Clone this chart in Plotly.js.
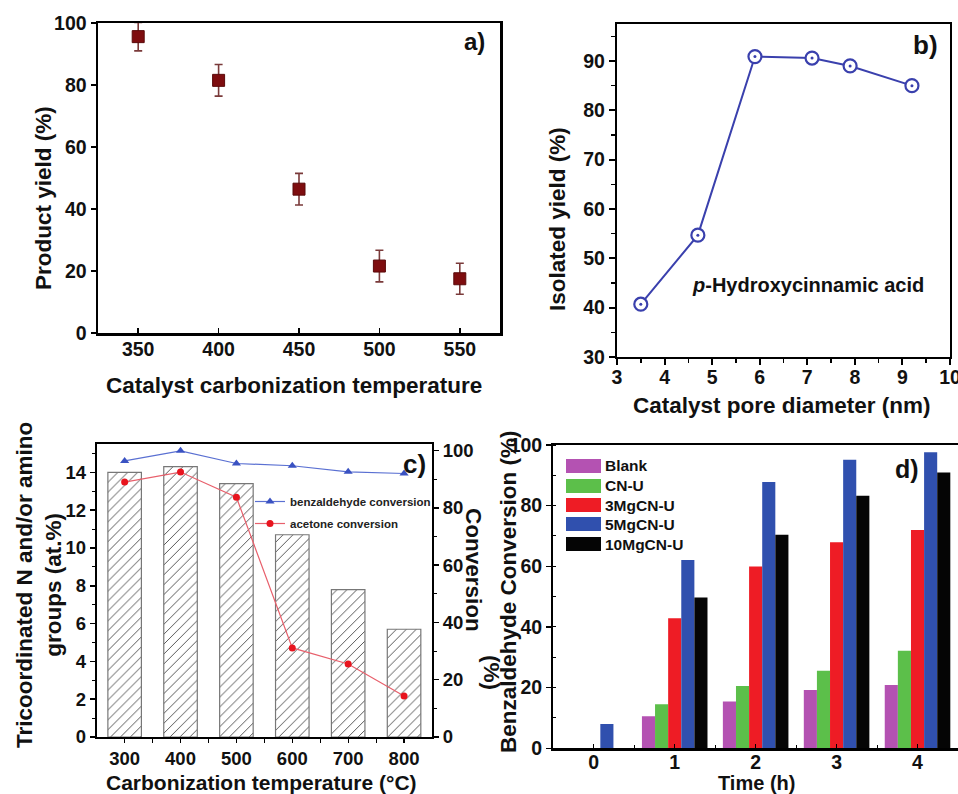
<!DOCTYPE html>
<html>
<head>
<meta charset="utf-8">
<script src="https://cdn.plot.ly/plotly-3.0.1.min.js"></script>
<style>html,body{margin:0;padding:0;background:#fff;}#chart{width:958px;height:794px;}</style>
</head>
<body>
<div id="chart"></div>
<script>
// ---------- DATA ----------
// a) product yield vs catalyst carbonization temperature
const aTemp = [350, 400, 450, 500, 550];
const aYield = [95.6, 81.5, 46.4, 21.6, 17.5];
const aErr = [4.6, 5.1, 5.1, 5.1, 5.0];

// b) isolated yield vs pore diameter
const bPore = [3.5, 4.7, 5.9, 7.1, 7.9, 9.2];
const bYield = [40.7, 54.7, 90.9, 90.6, 89.0, 85.0];
const bTicks = [3, 4, 5, 6, 7, 8, 9, 10];

// c) tricoordinated N content and conversions vs carbonization temperature
const cTemp = [300, 400, 500, 600, 700, 800];
const cNitrogen = [14.0, 14.3, 13.4, 10.7, 7.8, 5.7];
const cBenzConv = [96.4, 99.9, 95.5, 94.7, 92.6, 92.0];
const cAcetConv = [89.0, 92.5, 83.7, 31.1, 25.5, 14.3];

// d) benzaldehyde conversion vs time
const dTime = [0, 1, 2, 3, 4];
const dNames = ['Blank', 'CN-U', '3MgCN-U', '5MgCN-U', '10MgCN-U'];
const dBlank = [0, 10.6, 15.4, 19.2, 20.9];
const dCNU = [0, 14.5, 20.5, 25.6, 32.2];
const d3Mg = [0, 42.9, 59.9, 67.9, 72.0];
const d5Mg = [8.0, 62.1, 87.8, 95.1, 97.6];
const d10Mg = [0, 49.7, 70.4, 83.3, 90.9];

// ---------- STYLE ----------
const W = 958, H = 794;
const X = px => px / W;
const Y = py => 1 - py / H;
const FAM = 'Liberation Sans, Arial, Helvetica, sans-serif';
const tickF = {family: FAM, size: 19.5, color: '#111', weight: 'bold'};
const titleF = {family: FAM, size: 22.5, color: '#111', weight: 'bold'};
const dColors = ['#b452b2', '#5cbf4a', '#ee1c25', '#3050ae', '#050505'];
const dVals = [dBlank, dCNU, d3Mg, d5Mg, d10Mg];
const bBlue = '#3a40ad';

const traces = [];
// a
traces.push({
  x: aTemp, y: aYield, type: 'scatter', mode: 'markers', xaxis: 'x', yaxis: 'y',
  marker: {symbol: 'square', size: 12, color: '#7e0d0f', line: {color: '#5a0a0a', width: 1}},
  error_y: {type: 'data', array: aErr, visible: true, color: '#7a3a3a', thickness: 1.6, width: 4},
  showlegend: false
});
// b
traces.push({
  x: bPore, y: bYield, type: 'scatter', mode: 'lines+markers', xaxis: 'x2', yaxis: 'y2',
  line: {color: bBlue, width: 2},
  marker: {symbol: 'circle', size: 13, color: '#fff', line: {width: 2.2, color: bBlue}},
  showlegend: false
});
traces.push({
  x: bPore, y: bYield, type: 'scatter', mode: 'markers', xaxis: 'x2', yaxis: 'y2',
  marker: {symbol: 'circle', size: 3, color: bBlue},
  showlegend: false
});
// c bars
traces.push({
  x: cTemp, y: cNitrogen, type: 'bar', xaxis: 'x3', yaxis: 'y3', width: 60,
  marker: {color: 'white', line: {color: '#777', width: 1.2},
    pattern: {shape: '/', fgcolor: '#555', bgcolor: 'white', size: 7, solidity: 0.14}},
  showlegend: false
});
traces.push({
  x: cTemp, y: cBenzConv, type: 'scatter', mode: 'lines+markers', xaxis: 'x3', yaxis: 'y4',
  name: 'benzaldehyde conversion', legendgroup: 'g1',
  line: {color: '#5a70d2', width: 1.2},
  marker: {symbol: 'triangle-up', size: 8, color: '#3a52c2'}
});
traces.push({
  x: cTemp, y: cAcetConv, type: 'scatter', mode: 'lines+markers', xaxis: 'x3', yaxis: 'y4',
  name: 'acetone conversion', legendgroup: 'g2',
  line: {color: '#e8606c', width: 1.2},
  marker: {symbol: 'circle', size: 7, color: '#e8141e'}
});
// d bars
dNames.forEach((n, i) => {
  traces.push({
    x: dTime, y: dVals[i], type: 'bar', name: n, xaxis: 'x4', yaxis: 'y5',
    marker: {color: dColors[i], line: {width: 0}}, showlegend: false
  });
});

// ---------- LAYOUT ----------
const axBase = {showgrid: false, zeroline: false, showline: true, linecolor: '#000', tickcolor: '#000',
  tickfont: tickF, automargin: false, fixedrange: true};

const annotations = [
  // axis titles
  {text: 'Product yield (%)', x: X(43), y: Y(198), textangle: -90},
  {text: 'Catalyst carbonization temperature', x: X(294), y: Y(385)},
  {text: 'Isolated yield (%)', x: X(558), y: Y(219), textangle: -90},
  {text: 'Catalyst pore diameter (nm)', x: X(782), y: Y(405)},
  {text: 'Tricoordinated N and/or amino<br>groups (at.%)', x: X(39), y: Y(585), textangle: -90},
  {text: 'Conversion', x: X(474), y: Y(570), textangle: 90},
  {text: '(%)', x: X(492), y: Y(672), textangle: 90},
  {text: 'Carbonization temperature (°C)', x: X(261), y: Y(782), font: Object.assign({}, titleF, {size: 21})},
  {text: 'Benzaldehyde Conversion (%)', x: X(508), y: Y(592), textangle: -90},
  {text: 'Time (h)', x: X(756), y: Y(783), font: Object.assign({}, titleF, {size: 20})},
  // panel labels
  {text: 'a)', x: X(474), y: Y(42), font: Object.assign({}, titleF, {size: 24})},
  {text: 'b)', x: X(925), y: Y(45), font: Object.assign({}, titleF, {size: 26})},
  {text: 'c)', x: X(414), y: Y(464), font: Object.assign({}, titleF, {size: 26})},
  {text: 'd)', x: X(907), y: Y(469), font: Object.assign({}, titleF, {size: 25})},
  // b compound label
  {text: '<i>p</i>-Hydroxycinnamic acid', x: X(808), y: Y(285), font: Object.assign({}, titleF, {size: 20})}
].map(a => Object.assign({xref: 'paper', yref: 'paper', showarrow: false, xanchor: 'center', yanchor: 'middle', font: titleF}, a));

// d legend (custom swatches)
const shapes = [];
const legY = [466, 486, 505, 524, 544];
dNames.forEach((n, i) => {
  shapes.push({type: 'rect', xref: 'paper', yref: 'paper', x0: X(566), x1: X(601), y0: Y(legY[i] + 7), y1: Y(legY[i] - 7),
    fillcolor: dColors[i], line: {width: 0}});
  annotations.push({text: n, xref: 'paper', yref: 'paper', x: X(603), y: Y(legY[i]), xanchor: 'left', yanchor: 'middle',
    showarrow: false, font: {family: FAM, size: 15.5, color: '#111', weight: 'bold'}});
});

const layout = {
  width: W, height: H, margin: {l: 0, r: 0, t: 0, b: 0},
  paper_bgcolor: '#fff', plot_bgcolor: '#fff',
  barmode: 'group', bargap: 0.19, bargroupgap: 0,
  showlegend: true,
  legend: {x: X(250), y: Y(487), xanchor: 'left', yanchor: 'top', bgcolor: 'rgba(0,0,0,0)',
    font: {family: FAM, size: 11.5, color: '#222', weight: 'bold'}, itemwidth: 30,
    traceorder: 'grouped', tracegroupgap: 3},
  // a
  xaxis: Object.assign({}, axBase, {domain: [X(98), X(500)], range: [325, 575], anchor: 'y',
    tickvals: aTemp, ticks: 'inside', ticklen: 5, tickwidth: 1.5, linewidth: 2.5, mirror: true,
    ticklabelstandoff: -3}),
  yaxis: Object.assign({}, axBase, {domain: [Y(333), Y(23)], range: [0, 100], anchor: 'x',
    dtick: 20, ticks: 'outside', ticklen: 5, tickwidth: 2, linewidth: 2.5, mirror: true}),
  // b
  xaxis2: Object.assign({}, axBase, {domain: [X(617), X(950)], range: [2.9999, 10.0001], anchor: 'y2',
    tickvals: bTicks, ticks: 'outside', ticklen: 6, tickwidth: 2, linewidth: 2.2, mirror: true,
    ticklabelstandoff: -5, ticklabeloverflow: 'allow',
    minor: {dtick: 0.5, ticks: 'outside', ticklen: 4, tickwidth: 1.5, tickcolor: '#000'}}),
  yaxis2: Object.assign({}, axBase, {domain: [Y(357), Y(24)], range: [30, 97.5], anchor: 'x2',
    dtick: 10, ticks: 'outside', ticklen: 6, tickwidth: 2, linewidth: 2.2, mirror: true,
    minor: {dtick: 5, ticks: 'outside', ticklen: 4, tickwidth: 1.5, tickcolor: '#000'}}),
  // c
  xaxis3: Object.assign({}, axBase, {domain: [X(96.7), X(432)], range: [250, 850], anchor: 'y3',
    tickvals: cTemp, ticks: 'outside', ticklen: 4, tickwidth: 1.2, linewidth: 2, mirror: true,
    tickfont: Object.assign({}, tickF, {size: 18.5}),
    minor: {tickvals: [350, 450, 550, 650, 750], ticks: 'outside', ticklen: 4, tickwidth: 1.2, tickcolor: '#000'}}),
  yaxis3: Object.assign({}, axBase, {domain: [Y(737), Y(444)], range: [0, 15.5], anchor: 'x3',
    dtick: 2, ticks: 'outside', ticklen: 5, tickwidth: 1.5, linewidth: 2,
    tickfont: Object.assign({}, tickF, {size: 18.5}),
    minor: {dtick: 1, ticks: 'outside', ticklen: 3, tickwidth: 1, tickcolor: '#000'}}),
  yaxis4: Object.assign({}, axBase, {range: [0, 102.3], anchor: 'x3', overlaying: 'y3', side: 'right',
    dtick: 20, ticks: 'outside', ticklen: 5, tickwidth: 1.5, linewidth: 2,
    tickfont: Object.assign({}, tickF, {size: 18.5}),
    minor: {dtick: 10, ticks: 'outside', ticklen: 3, tickwidth: 1, tickcolor: '#000'}}),
  // d
  xaxis4: Object.assign({}, axBase, {domain: [X(553.3), 1], range: [-0.5, 4.5], anchor: 'y5',
    tickvals: dTime, ticks: 'inside', ticklen: 4, tickwidth: 1.2, linewidth: 2.2, mirror: true,
    ticklabelstandoff: -5,
    minor: {tickvals: [0.5, 1.5, 2.5, 3.5], ticks: 'inside', ticklen: 3, tickwidth: 1, tickcolor: '#000'}}),
  yaxis5: Object.assign({}, axBase, {domain: [Y(748.3), Y(445)], range: [0, 100], anchor: 'x4',
    dtick: 20, ticks: 'outside', ticklen: 5, tickwidth: 1.5, linewidth: 2.2,
    minor: {dtick: 10, ticks: 'inside', ticklen: 3, tickwidth: 1, tickcolor: '#000'}}),
  annotations: annotations,
  shapes: shapes
};

Plotly.newPlot('chart', traces, layout, {displayModeBar: false, staticPlot: true});
</script>
</body>
</html>
